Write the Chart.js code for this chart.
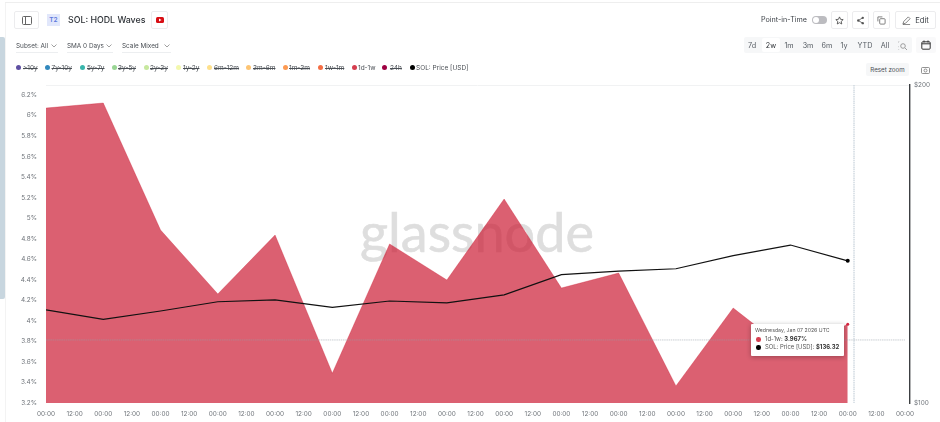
<!DOCTYPE html>
<html><head><meta charset="utf-8">
<script src="https://cdn.jsdelivr.net/npm/chart.js@4"></script>
<style>
html,body{margin:0;padding:0;background:#fff;overflow:hidden}
body{width:940px;height:422px;position:relative;font-family:Inter,"Noto Sans",sans-serif;color:#3a3f45}
.a{position:absolute;white-space:nowrap}
.btn{position:absolute;border:1px solid #ececee;border-radius:2px;box-sizing:border-box;background:#fff;display:flex;align-items:center;justify-content:center}
.sel{position:absolute;top:41px;height:10px;line-height:10px;font-size:6.4px;color:#4a4f55;border-bottom:1px solid #eceef0;padding-bottom:1px;white-space:nowrap}
.rng{position:absolute;top:41px;font-size:7.2px;line-height:9px;color:#555b62;transform:translateX(-50%)}
.leg{position:absolute;top:64px;font-size:6.5px;line-height:8px;color:#4a4f55;white-space:nowrap}
.dot{position:absolute;top:65px;width:5px;height:5px;border-radius:50%}
#wm{position:absolute;left:360px;top:197px;font-family:Lato,sans-serif;font-size:54px;line-height:70px;color:#dedede;-webkit-text-stroke:.6px #dedede;white-space:nowrap}
#c{position:absolute;left:0;top:0}
#tip{position:absolute;left:751px;top:324px;width:93px;height:32px;background:#fff;box-shadow:0 1px 5px rgba(0,0,0,.3);border-radius:1px;color:#555}
#tip div{position:absolute;white-space:nowrap}
#tip b{color:#333;font-weight:700}
#tip i{position:absolute;width:4.5px;height:4.5px;border-radius:50%}
</style></head><body>
<div class="a" style="left:5px;top:2px;width:935px;height:1px;background:#eeeeee"></div>
<div class="a" style="left:5px;top:3px;width:1px;height:419px;background:#f3f3f3"></div>
<div class="a" style="left:0;top:37px;width:5px;height:262px;background:#c8d6df;border-radius:0 2px 2px 0"></div>
<div id="wm">glassnode</div>
<canvas id="c" width="940" height="422"></canvas>

<div class="btn" style="left:14px;top:11px;width:25px;height:18px"><svg width="10" height="9" viewBox="0 0 10 9"><rect x=".5" y=".5" width="9" height="8" rx="1" fill="none" stroke="#666"/><path d="M3.5 .5v8" stroke="#666"/></svg></div>
<div class="a" style="left:47px;top:14px;width:13px;height:12px;background:#e1e7fb;color:#5d78dc;font-size:6.5px;font-weight:600;line-height:12px;text-align:center">T2</div>
<div class="a" id="title" style="left:68px;top:13px;font-size:8.8px;line-height:14px;font-weight:500;color:#2f3338">SOL: HODL Waves</div>
<div class="btn" style="left:151px;top:11px;width:17px;height:18px"><svg width="8" height="6" viewBox="0 0 8 6"><rect width="8" height="6" rx="1.5" fill="#d80e14"/><path d="M3 1.5 5.5 3 3 4.5z" fill="#fff"/></svg></div>

<div class="sel" style="left:16px;width:42px">Subset: All<svg style="position:absolute;right:1px;top:3px" width="6" height="4"><path d="M.5 .5 3 3 5.5 .5" fill="none" stroke="#888" stroke-width=".8"/></svg></div>
<div class="sel" style="left:67px;width:46px">SMA 0 Days<svg style="position:absolute;right:1px;top:3px" width="6" height="4"><path d="M.5 .5 3 3 5.5 .5" fill="none" stroke="#888" stroke-width=".8"/></svg></div>
<div class="sel" style="left:122px;width:49px">Scale Mixed<svg style="position:absolute;right:1px;top:3px" width="6" height="4"><path d="M.5 .5 3 3 5.5 .5" fill="none" stroke="#888" stroke-width=".8"/></svg></div>
<div id="legend"></div>

<div class="a" style="left:761px;top:14px;font-size:7.2px;line-height:11px;color:#3f444a">Point-in-Time</div>
<div class="a" style="left:812px;top:16px;width:15px;height:8px;border-radius:4px;background:#bcbcc0"><div class="a" style="left:1px;top:1px;width:6px;height:6px;border-radius:50%;background:#fff"></div></div>
<div class="btn" style="left:831px;top:11px;width:17px;height:18px"><svg width="9" height="9" viewBox="0 0 10 10"><path d="M5 1l1.2 2.7 2.9.3-2.2 2 .6 2.9L5 7.400 2.500 8.900l.6-2.900-2.200-2 2.900-.3z" fill="none" stroke="#444" stroke-width=".9"/></svg></div>
<div class="btn" style="left:852px;top:11px;width:17px;height:18px"><svg width="9" height="9" viewBox="0 0 10 10"><path d="M7.500 2 2.500 5l5 3" fill="none" stroke="#555" stroke-width=".9"/><circle cx="7.500" cy="2" r="1.300" fill="#555"/><circle cx="2.500" cy="5" r="1.300" fill="#555"/><circle cx="7.500" cy="8" r="1.300" fill="#555"/></svg></div>
<div class="btn" style="left:873px;top:11px;width:17px;height:18px"><svg width="9" height="9" viewBox="0 0 10 10"><rect x="3" y="3" width="6" height="6" rx="1" fill="none" stroke="#666" stroke-width=".9"/><path d="M1 6V1h5" fill="none" stroke="#666" stroke-width=".9"/></svg></div>
<div class="btn" style="left:895px;top:11px;width:41px;height:18px;font-size:7.6px;color:#3a3f45"><svg width="9" height="9" viewBox="0 0 10 10" style="margin-right:4px"><path d="M1 9l1-3 5-5 2 2-5 5zM1 9.500h8" fill="none" stroke="#555" stroke-width=".8"/></svg>Edit</div>

<div class="a" style="left:744px;top:37px;width:168px;height:16px;background:#f6f7f8;border-radius:2px"></div>
<div class="a" style="left:762px;top:38px;width:18px;height:14px;background:#fff;border-radius:2px"></div>
<div id="ranges"></div>
<svg class="a" style="left:898px;top:41px" width="9" height="9" viewBox="0 0 9 9"><path d="M0 2V0h2M0 5v2M0 9h2" fill="none" stroke="#aaa" stroke-width=".8" stroke-dasharray="1 .8"/><circle cx="5" cy="5" r="2.300" fill="none" stroke="#888" stroke-width=".8"/><path d="M7 7l2 2" stroke="#888" stroke-width=".8"/></svg>
<div class="btn" style="left:916px;top:37px;width:20px;height:16px;border:0;background:#f9f9fa"><svg width="10" height="10" viewBox="0 0 10 10"><rect x=".8" y="1.800" width="8.400" height="7.400" rx="1" fill="none" stroke="#333"/><path d="M.8 3.800h8.400M3 .5v2M7 .5v2" stroke="#333"/></svg></div>
<div class="a" style="left:866px;top:63px;width:43px;height:13px;background:#f6f7f8;border-radius:2px;font-size:6.2px;line-height:13px;text-align:center;color:#4a4f55">Reset zoom</div>
<svg class="a" style="left:921px;top:66px" width="9" height="8" viewBox="0 0 9 8"><rect x=".5" y="1.500" width="8" height="6" rx="1" fill="none" stroke="#777" stroke-width=".8"/><circle cx="4.500" cy="4.500" r="1.500" fill="none" stroke="#777" stroke-width=".8"/></svg>

<div id="tip"></div>

<script>
// ---- chart data ----
const axisLabels = ["00:00","12:00","00:00","12:00","00:00","12:00","00:00","12:00","00:00","12:00","00:00","12:00","00:00","12:00","00:00","12:00","00:00","12:00","00:00","12:00","00:00","12:00","00:00","12:00","00:00","12:00","00:00","12:00","00:00","12:00","00:00"];
const sampleSlots = [0,2,4,6,8,10,12,14,16,18,20,22,24,26,28];
const wave1d1w = [6.073,6.122,4.885,4.262,4.836,3.490,4.749,4.398,5.187,4.320,4.466,3.366,4.125,3.690,3.967];
const solPrice = [122.5,120.0,122.2,124.7,125.2,123.2,124.9,124.4,126.6,132.3,133.3,134.0,137.9,141.1,136.32];
const priceTicks = [100,200];
const crosshairSlot = 28.22;
const crosshairPct = 3.814;
const hoverDate = "Wednesday, Jan 07 2026 UTC";
const legendNames = [">10y","7y-10y","5y-7y","3y-5y","2y-3y","1y-2y","6m-12m","3m-6m","1m-3m","1w-1m","1d-1w","24h","SOL: Price [USD]"];
const legendColors = ["#5e4fa2","#3288bd","#39b5ab","#99d594","#c7e89e","#f3f8ad","#fee08b","#fdc473","#fd9a52","#f46d43","#d53e4f","#9e0142","#000000"];
const legendActive = [false,false,false,false,false,false,false,false,false,false,true,false,true];
const rangeNames = ["7d","2w","1m","3m","6m","1y","YTD","All"];

// ---- page chrome built from the lists ----
const legendDotX = [16,45,80,112,144,176,207,246,283,318,352,382,410];
const legendTextX = [23,51.500,87,118,150,183,214,253,289,325,358,390,416];
const legendEl = document.getElementById('legend');
legendNames.forEach((n,i)=>{
  const d=document.createElement('div');d.className='dot';d.style.left=legendDotX[i]+'px';d.style.background=legendColors[i];
  const t=document.createElement('div');t.className='leg';t.style.left=legendTextX[i]+'px';t.textContent=n;
  if(!legendActive[i])t.style.textDecoration='line-through';
  legendEl.append(d,t);
});
const rangeX=[752,771,789,808,827,844,865,885];
const rangesEl=document.getElementById('ranges');
rangeNames.forEach((n,i)=>{
  const r=document.createElement('div');r.className='rng';r.style.left=rangeX[i]+'px';r.textContent=n;
  if(n==='2w')r.style.color='#2b2f33';
  rangesEl.append(r);
});
const last=wave1d1w.length-1;
document.getElementById('tip').innerHTML=
 `<div style="left:4px;top:3px;font-size:5.2px">${hoverDate}</div>`+
 `<i style="left:5px;top:13px;background:${legendColors[10]}"></i><div style="left:14px;top:11px;font-size:5.9px">1d-1w: <b>${wave1d1w[last].toFixed(3)}%</b></div>`+
 `<i style="left:5px;top:21px;background:#000"></i><div style="left:14px;top:19px;font-size:5.9px">SOL: Price [USD]: <b>$${solPrice[last].toFixed(2)}</b></div>`;

// ---- chart ----
const toPts=a=>a.map((v,i)=>({x:sampleSlots[i],y:v}));
const lastOnly=(n,r)=>wave1d1w.map((_,i)=>i===n?r:0);
const crosshair={id:'crosshair',afterDatasetsDraw(ch){
  const {ctx,chartArea:ca,scales:s}=ch;
  ctx.save();
  ctx.strokeStyle='rgba(205,214,222,.85)';
  ctx.lineWidth=1.6;ctx.setLineDash([1.5,.7]);
  const x=s.x.getPixelForValue(crosshairSlot);
  ctx.beginPath();ctx.moveTo(x,ca.top);ctx.lineTo(x,ca.bottom);ctx.stroke();
  ctx.strokeStyle='rgba(150,160,170,.5)';ctx.lineWidth=1;
  const y=s.y.getPixelForValue(crosshairPct);
  ctx.beginPath();ctx.moveTo(ca.left,y);ctx.lineTo(s.x.getPixelForValue(30),y);ctx.stroke();
  ctx.restore();
}};
new Chart(document.getElementById('c'),{
  type:'line',
  plugins:[crosshair],
  data:{datasets:[
    {label:'SOL: Price [USD]',data:toPts(solPrice),yAxisID:'y1',borderColor:'#111',borderWidth:1.2,pointRadius:lastOnly(last,2),pointBackgroundColor:'#000',pointBorderWidth:0,tension:0,order:1},
    {label:'1d-1w',data:toPts(wave1d1w),yAxisID:'y',borderColor:'rgba(204,29,52,.68)',borderWidth:0.5,backgroundColor:'rgba(204,29,52,.7)',fill:'start',pointRadius:lastOnly(last,1.5),pointBackgroundColor:'#d6243f',pointBorderWidth:0,tension:0,order:2}
  ]},
  options:{
    responsive:false,animation:false,events:[],
    layout:{padding:{top:85,left:0,right:0,bottom:0}},
    plugins:{legend:{display:false},tooltip:{enabled:false}},
    scales:{
      x:{type:'linear',min:0,max:30.175,
        afterFit(s){s.height=19},
        grid:{display:false,drawTicks:false},border:{display:false},
        ticks:{stepSize:1,includeBounds:false,autoSkip:false,maxRotation:0,padding:7,color:'#6f747a',font:{family:'Inter',size:6.4},callback:v=>axisLabels[v]}},
      y:{position:'left',min:3.2,max:6.2975,
        afterFit(s){s.width=46},
        grid:{display:false,drawTicks:false},border:{display:false},
        ticks:{stepSize:0.2,includeBounds:false,padding:9,color:'#6f747a',font:{family:'Inter',size:6.4},callback:v=>(+v.toFixed(1))+'%'}},
      y1:{type:'logarithmic',position:'right',min:100,max:200,
        afterBuildTicks(s){s.ticks=priceTicks.map(v=>({value:v}))},
        afterFit(s){s.width=30},
        grid:{drawTicks:false,color:c=>c.tick&&c.tick.value===200?'#f1f2f3':'transparent'},
        border:{display:true,color:'#3c3f42',width:1.4},
        ticks:{padding:4,color:'#6f747a',font:{family:'Inter',size:6.4},callback:v=>'$'+v}}
    }
  }
});
</script>
</body></html>
